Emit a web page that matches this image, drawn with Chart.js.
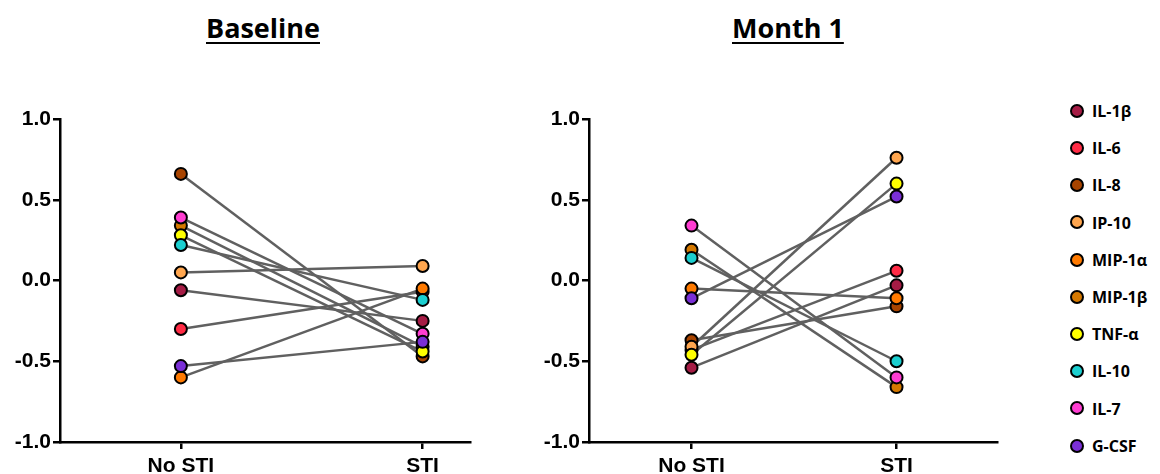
<!DOCTYPE html>
<html>
<head>
<meta charset="utf-8">
<script src="https://cdn.jsdelivr.net/npm/chart.js@4/dist/chart.umd.min.js"></script>
<style>
  body { margin: 0; background: #fff; width: 1160px; height: 474px; position: relative; overflow: hidden; }
  .title { position: absolute; top: 9px; font: bold 27px "Open Sans", sans-serif; color: #000; text-decoration: underline; text-decoration-thickness: 2px; text-underline-offset: 4px; }
  canvas { position: absolute; top: 100px; }
  .legend { position: absolute; left: 1070px; font: bold 16px "Open Sans", sans-serif; color: #000; }
  .legend span { display: inline-block; width: 10px; height: 10px; border: 2px solid #000; border-radius: 50%; vertical-align: middle; margin-right: 8px; position: relative; top: -2px; }
</style>
</head>
<body>
<div class="title" style="left:206px">Baseline</div>
<div class="title" style="left:732px">Month 1</div>
<canvas id="baselineChart" width="480" height="374" style="left:0px"></canvas>
<canvas id="monthChart" width="530" height="374" style="left:480px"></canvas>
<div id="legend"></div>
<script>
// cytokines and colours
var cytokines = ['IL-1β', 'IL-6', 'IL-8', 'IP-10', 'MIP-1α', 'MIP-1β', 'TNF-α', 'IL-10', 'IL-7', 'G-CSF'];
var colors = ['#a51c45', '#ff2b45', '#a84400', '#ffa64f', '#ff7a00', '#d47800', '#ffff00', '#1ccfd0', '#ff3dd2', '#7a2fd6'];
var groups = ['No STI', 'STI'];
var yTicks = [-1.0, -0.5, 0.0, 0.5, 1.0];

// Baseline values
var baseNoSti = [-0.06, -0.30, 0.66, 0.05, -0.60, 0.34, 0.28, 0.22, 0.39, -0.53];
var baseSti = [-0.25, -0.07, -0.47, 0.09, -0.05, -0.41, -0.44, -0.12, -0.33, -0.38];

// Month 1 values
var monthNoSti = [-0.54, -0.43, -0.37, -0.41, -0.05, 0.19, -0.46, 0.14, 0.34, -0.11];
var monthSti = [-0.03, 0.06, -0.16, 0.76, -0.11, -0.66, 0.60, -0.50, -0.60, 0.52];

var tickFont = { family: 'Liberation Sans', size: 21, weight: 'bold' };

function buildDatasets(noSti, sti) {
    var sets = [];
    // lines first (drawn under the points)
    for (var i = 0; i < cytokines.length; i++) {
        sets.push({
            label: cytokines[i] + ' line',
            data: [{ x: 0, y: noSti[i] }, { x: 1, y: sti[i] }],
            showLine: true,
            borderColor: '#606060',
            borderWidth: 2.5,
            pointRadius: 0,
            order: 100
        });
    }
    for (var j = 0; j < cytokines.length; j++) {
        sets.push({
            label: cytokines[j],
            data: [{ x: 0, y: noSti[j] }, { x: 1, y: sti[j] }],
            showLine: false,
            pointRadius: 6,
            pointBorderWidth: 2,
            pointBackgroundColor: colors[j],
            pointBorderColor: '#000',
            order: 50 - j
        });
    }
    return sets;
}

function renderPanel(id, noSti, sti, yWidth, xMax, padRight) {
    var ctx = document.getElementById(id).getContext('2d');
    new Chart(ctx, {
        type: 'scatter',
        data: { datasets: buildDatasets(noSti, sti) },
        options: {
            responsive: false,
            animation: false,
            layout: { padding: { top: 19, right: padRight, left: 0, bottom: 0 } },
            plugins: { legend: { display: false }, tooltip: { enabled: false } },
            scales: {
                x: {
                    type: 'linear',
                    min: -0.5,
                    max: xMax,
                    afterBuildTicks: function(scale) {
                        scale.ticks = [{ value: 0 }, { value: 1 }];
                    },
                    afterFit: function(scale) { scale.height = 32; },
                    ticks: {
                        callback: function(v) { return groups[v]; },
                        color: '#000',
                        padding: 5,
                        maxRotation: 0,
                        font: tickFont
                    },
                    grid: { drawOnChartArea: false, color: '#000', lineWidth: 2.5, tickLength: 7 },
                    border: { color: '#000', width: 2.5 }
                },
                y: {
                    min: -1,
                    max: 1,
                    afterBuildTicks: function(scale) {
                        scale.ticks = yTicks.map(function(v) { return { value: v }; });
                    },
                    afterFit: function(scale) { scale.width = yWidth; },
                    ticks: {
                        callback: function(v) { return v.toFixed(1); },
                        color: '#000',
                        padding: 2,
                        font: tickFont
                    },
                    grid: { drawOnChartArea: false, color: '#000', lineWidth: 2.5, tickLength: 7 },
                    border: { color: '#000', width: 2.5 }
                }
            }
        }
    });
}

renderPanel('baselineChart', baseNoSti, baseSti, 60, 1.196, 10);
renderPanel('monthChart', monthNoSti, monthSti, 109, 1.49, 13);

// legend
var legend = document.getElementById('legend');
for (var k = 0; k < cytokines.length; k++) {
    var row = document.createElement('div');
    row.className = 'legend';
    row.style.top = (100 + k * 37.2) + 'px';
    row.innerHTML = '<span style="background:' + colors[k] + '"></span>' + cytokines[k];
    legend.appendChild(row);
}
</script>
</body>
</html>
